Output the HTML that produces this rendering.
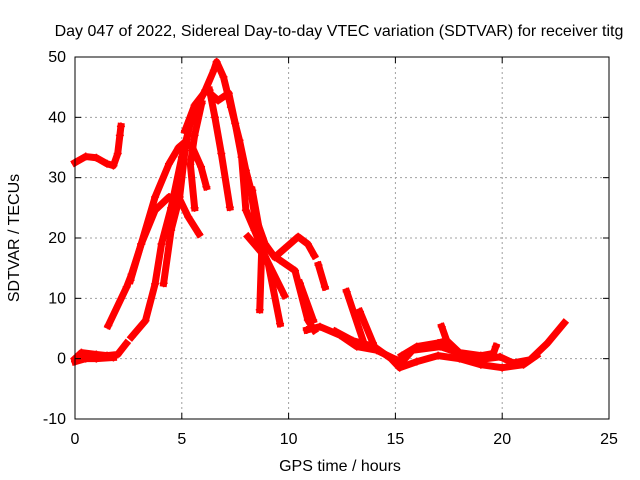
<!DOCTYPE html>
<html><head><meta charset="utf-8"><style>
body{margin:0;background:#fff}
svg{display:block;font-family:"Liberation Sans",sans-serif}
</style></head><body>
<svg id="c" width="640" height="480">
<rect width="640" height="480" fill="#fff"/>
<g id="grid"></g>
<g id="series"></g>
<rect x="75" y="57" width="534" height="362" fill="none" stroke="#000" stroke-width="1"/>
<g id="ticks"></g>
<text x="339" y="36" font-size="16" text-anchor="middle">Day 047 of 2022, Sidereal Day-to-day VTEC variation (SDTVAR) for receiver titg</text>
<text x="340" y="471" font-size="16" text-anchor="middle">GPS time / hours</text>
<text transform="translate(19,238) rotate(-90)" font-size="16" text-anchor="middle">SDTVAR / TECUs</text>
</svg>
<script>
const xTicks=[0,5,10,15,20,25];
const yTicks=[-10,0,10,20,30,40,50];
const trackA=[[0,32.5],[0.5,33.5],[1,33.3],[1.5,32.3],[1.8,32],[2.0,34],[2.1,37],[2.15,38.5]];
const trackB=[[0,0],[0.3,1],[1,0.7],[1.5,0.5],[2,0.7],[2.4,2.5]];
const trackB2=[[0,-0.5],[0.5,0],[1,0],[1.8,0.2]];
const trackC=[[1.56,5.5],[2.42,11.9],[2.65,14],[3.1,19],[3.75,24.6],[4.4,26.8],[4.85,26.8],[5.3,23.5],[5.8,20.7]];
const trackD=[[2.65,3.6],[3.3,6.3],[3.75,12.4],[4.05,19],[4.5,25],[5.0,33.4],[5.4,39],[5.6,41],[6.1,44.5],[6.5,47.8],[6.63,49.2],[6.95,46.7],[7.3,41.7],[7.7,36.2],[8.0,31.2],[8.2,28.5],[8.4,24],[8.9,19],[9.35,16.8],[9.8,18.2],[10.45,20.2],[10.9,19],[11.2,17.1]];
const trackE=[[2.6,13],[3.1,19],[3.75,26.8],[4.4,32.3],[4.85,35],[5.15,35.9],[5.5,35],[5.9,31.8],[6.15,28.5]];
const trackF=[[5.15,37.8],[5.6,42],[6.15,44.5],[6.7,42.8],[7.2,44],[7.5,39],[7.8,33.4],[8.0,24.6],[8.4,21.3],[9.05,15.7],[9.6,5.8]];
const trackG=[[6.3,44.5],[6.55,40],[6.85,34],[7.25,25.1]];
const trackH=[[5.93,42.3],[5.6,37],[5.4,32.2],[5.6,25]];
const trackI=[[4.15,12.5],[4.5,21.3],[4.9,26.8],[5.15,34.5],[5.4,39.5],[5.85,42.8]];
const trackJ=[[8.3,27.9],[8.75,19],[8.65,8.1]];
const trackK=[[8.1,20.2],[8.9,16.9],[9.8,10.5]];
const trackL=[[9.6,16.3],[10.3,14.6],[10.9,6.4],[11.2,4.7]];
const trackM=[[10.85,4.75],[11.47,5.3],[12.4,3.9],[13.19,2.0],[14.12,1.4],[15.06,-0.2],[15.2,-1.0],[15.8,1.4],[17.1,2.0],[18.0,0.9],[18.8,-0.2],[19.9,0.3],[20.5,-0.7],[21.3,-0.2],[22.1,2.5],[22.9,5.9]];
const trackM2=[[12.2,4.5],[13,3],[14,2],[14.8,0],[15.2,-1.5],[16,-0.5],[17,0.5],[18,0],[19,-1],[20,-1.5],[21,-1],[21.6,0.5]];
const trackN=[[15.3,0.5],[16,2],[17,2.6],[17.4,3],[18,1],[19,0.5],[19.5,0.8]];
const trackO=[[17.17,5.3],[17.5,2.0]];
const trackP=[[19.55,0.5],[19.7,2.0]];
const trackQ=[[12.72,11.1],[13.58,2.0]];
const trackR=[[13.34,7.8],[13.95,2.6]];
const trackS=[[11.4,15.5],[11.7,11.9]];
const trackT=[[10.53,12.5],[11.15,6.4]];
const tracks=[trackA,trackB,trackB2,trackC,trackD,trackE,trackF,trackG,trackH,trackI,trackJ,trackK,trackL,trackM,trackM2,trackN,trackO,trackP,trackQ,trackR,trackS,trackT];
const NS="http://www.w3.org/2000/svg";
const X=v=>75+v*(534/25);
const Y=v=>419-(v+10)*(362/60);
const grid=document.getElementById('grid'),tk=document.getElementById('ticks'),sg=document.getElementById('series');
function mk(t,a,p){const e=document.createElementNS(NS,t);for(const k in a)e.setAttribute(k,a[k]);p.appendChild(e);return e;}
xTicks.forEach(v=>{
 if(v>0&&v<25){const g=mk('line',{x1:X(v),x2:X(v),y1:57,y2:419,stroke:'#a0a0a0','stroke-dasharray':'2,3'},grid);
 
 }
 mk('line',{x1:X(v),x2:X(v),y1:419,y2:413,stroke:'#000'},tk);
 mk('line',{x1:X(v),x2:X(v),y1:57,y2:63,stroke:'#000'},tk);
 const t=mk('text',{x:X(v),y:444,'font-size':16,'text-anchor':'middle'},tk);t.textContent=v;
 
 
});
yTicks.forEach(v=>{
 if(v>-10&&v<50){const g=mk('line',{x1:75,x2:609,y1:Y(v),y2:Y(v),stroke:'#a0a0a0','stroke-dasharray':'2,3'},grid);
 
 }
 mk('line',{x1:75,x2:81,y1:Y(v),y2:Y(v),stroke:'#000'},tk);
 mk('line',{x1:609,x2:603,y1:Y(v),y2:Y(v),stroke:'#000'},tk);
 const t=mk('text',{x:66,y:Y(v)+5,'font-size':16,'text-anchor':'end'},tk);t.textContent=v;
 
 
});
tracks.forEach(tr=>{
 const p=mk('polyline',{points:tr.map(d=>X(d[0])+','+Y(d[1])).join(' '),fill:'none',stroke:'#ff0000','stroke-width':7,'stroke-linejoin':'round','stroke-linecap':'square'},sg);
 
 
 tr.forEach(d=>{
  const m=mk('path',{d:`M${X(d[0])-4},${Y(d[1])}h8M${X(d[0])},${Y(d[1])-4}v8`,stroke:'#ff0000','stroke-width':1.5},sg);
  
  
 });
});
</script>
</body></html>
